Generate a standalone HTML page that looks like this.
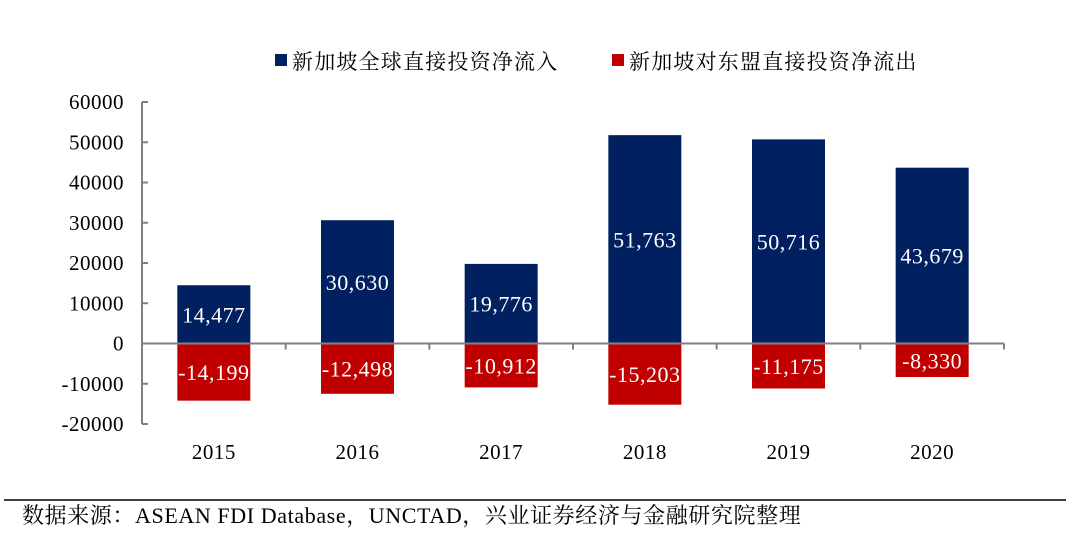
<!DOCTYPE html>
<html><head><meta charset="utf-8">
<style>
body{margin:0;background:#fff;width:1080px;height:535px;overflow:hidden;font-family:"Liberation Serif","Noto Serif CJK SC",serif;}
svg text{font-family:"Liberation Serif","Noto Serif CJK SC",serif;}
</style></head><body>
<svg width="1080" height="535">
<g>
<rect x="275" y="54" width="12" height="12" fill="#002060"/>
<text x="292" y="69" font-size="21" letter-spacing="1.2" fill="#000">新加坡全球直接投资净流入</text>
<rect x="612" y="54" width="12" height="12" fill="#C00000"/>
<text x="629" y="69" font-size="21" letter-spacing="1.2" fill="#000">新加坡对东盟直接投资净流出</text>
</g>
<g id="plot"></g>
<line x1="4" y1="500" x2="1066" y2="500" stroke="#000" stroke-width="1.5"/>
<text x="22" y="523" font-size="22" letter-spacing="0.6" fill="#000">数据来源：ASEAN FDI Database，UNCTAD，兴业证券经济与金融研究院整理</text>
</svg>
<script>
const categories=["2015","2016","2017","2018","2019","2020"];
const inflow=[14477,30630,19776,51763,50716,43679];
const outflow=[-14199,-12498,-10912,-15203,-11175,-8330];
const yTicks=[60000,50000,40000,30000,20000,10000,0,-10000,-20000];
const NS="http://www.w3.org/2000/svg";
const g=document.getElementById("plot");
const x0=142,x1=1004,yMin=-20000,yMax=60000,pTop=102,pBot=424;
const y=v=>pBot-(v-yMin)/(yMax-yMin)*(pBot-pTop);
const band=(x1-x0)/categories.length;
const cx=i=>x0+band*(i+0.5);
const bw=73;
function mk(t,a){const e=document.createElementNS(NS,t);for(const k in a)e.setAttribute(k,a[k]);g.appendChild(e);return e;}
const fmt=v=>(v<0?"-":"")+Math.abs(v).toLocaleString("en-US");
let ax=mk("line",{x1:x0,y1:pTop,x2:x0,y2:pBot,stroke:"#808080","stroke-width":2});


yTicks.forEach(v=>{
 const t=mk("line",{x1:x0,y1:y(v),x2:x0+6,y2:y(v),stroke:"#808080","stroke-width":2});
 
 
 const l=mk("text",{x:x0-18,y:y(v)+7,"font-size":21,"letter-spacing":0.5,"text-anchor":"end",fill:"#000"});
 l.textContent=v;
 
 
});
categories.forEach((c,i)=>{
 const b1=mk("rect",{x:cx(i)-bw/2,y:y(inflow[i]),width:bw,height:y(0)-y(inflow[i]),fill:"#002060"});
 
 
 const b2=mk("rect",{x:cx(i)-bw/2,y:y(0),width:bw,height:y(outflow[i])-y(0),fill:"#C00000"});
 
 
 const t1=mk("text",{x:cx(i),y:(y(inflow[i])+y(0))/2+8,"font-size":22,"letter-spacing":0.5,"text-anchor":"middle",fill:"#fff"});
 t1.textContent=fmt(inflow[i]);
 
 
 const t2=mk("text",{x:cx(i),y:(y(outflow[i])+y(0))/2+8,"font-size":22,"letter-spacing":0.5,"text-anchor":"middle",fill:"#fff"});
 t2.textContent=fmt(outflow[i]);
 
 
 const cl=mk("text",{x:cx(i),y:459,"font-size":21,"letter-spacing":0.5,"text-anchor":"middle",fill:"#000"});
 cl.textContent=c;
 
 
});
const zl=mk("line",{x1:x0,y1:y(0),x2:x1,y2:y(0),stroke:"#808080","stroke-width":2});


for(let i=1;i<=categories.length;i++){
 const tk=mk("line",{x1:x0+band*i,y1:y(0),x2:x0+band*i,y2:y(0)+6,stroke:"#808080","stroke-width":2});
 
 
}
</script>
</body></html>
